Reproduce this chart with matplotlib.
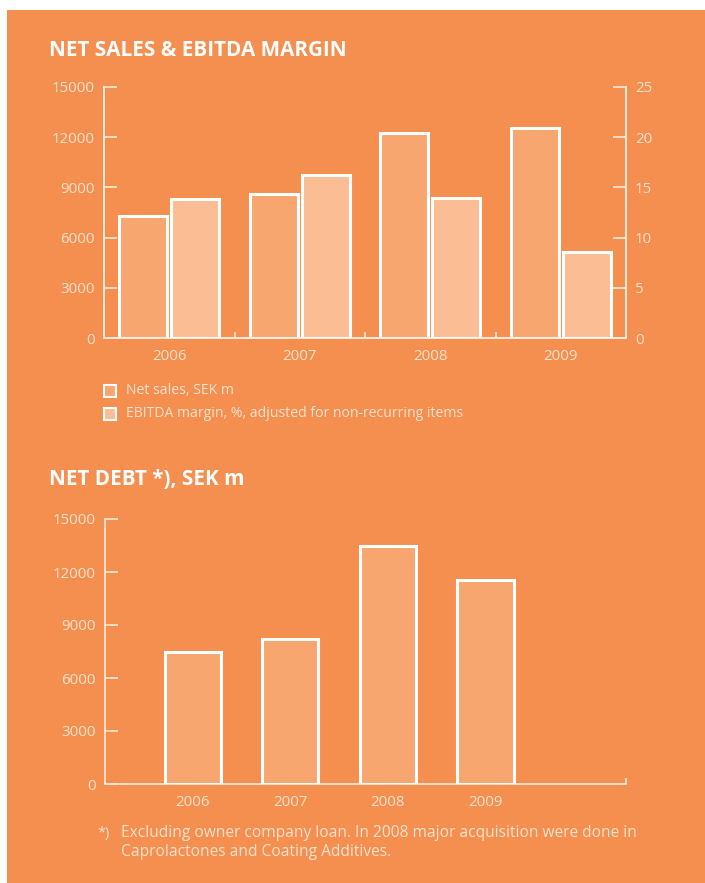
import matplotlib
matplotlib.use('Agg')
from matplotlib import pyplot as plt
from matplotlib.patches import Rectangle
import numpy as np

years = ['2006', '2007', '2008', '2009']
net_sales = [7300, 8600, 12250, 12550]
ebitda_margin = [13.8, 16.2, 13.9, 8.6]
net_debt = [7450, 8200, 13450, 11550]

bg = '#F58F4F'
c_sales = '#F8A670'
c_ebitda = '#FBBD93'
c_text = '#FDE2CF'
c_line = '#FEEADB'

plt.rcParams['font.family'] = ['Open Sans', 'DejaVu Sans']

W, H = 705, 883
fig = plt.figure(figsize=(W / 100, H / 100), dpi=100)
fig.patch.set_facecolor('white')
fig.patches.append(Rectangle((7 / W, -0.02), 1, 1.02 - 10 / H, transform=fig.transFigure,
                             facecolor=bg, edgecolor='none', zorder=-5))


def px(x0, y0, x1, y1):
  # pixel box -> figure fraction [left, bottom, width, height]
  return [x0 / W, 1 - y1 / H, (x1 - x0) / W, (y1 - y0) / H]


def style_axis(ax):
  ax.set_facecolor('none')
  for s in ax.spines.values():
    s.set_color(c_line)
    s.set_linewidth(1.2)
  ax.tick_params(colors=c_line, labelcolor=c_text, labelsize=10.8, width=1.2)


# --- top chart: net sales & EBITDA margin ---
ax = fig.add_axes(px(104, 87, 626, 338))
ax2 = ax.twinx()
x = np.arange(len(years))
bw = 0.37
ax.bar(x - 0.2, net_sales, bw, color=c_sales, edgecolor='white', linewidth=2.2, zorder=3)
ax2.bar(x + 0.2, ebitda_margin, bw, color=c_ebitda, edgecolor='white', linewidth=2.2, zorder=3)
ax.set_xlim(-0.5, 3.5)
ax.set_ylim(0, 15000)
ax2.set_ylim(0, 25)
ax.set_yticks(np.arange(0, 15001, 3000))
ax2.set_yticks(np.arange(0, 26, 5))
ax.set_xticks(x)
ax.set_xticklabels(years)
ax.set_xticks([0.5, 1.5, 2.5], minor=True)
for a in (ax, ax2):
  style_axis(a)
  a.spines['top'].set_visible(False)
ax.tick_params(axis='y', direction='in', length=9.4, pad=6.5)
ax2.tick_params(axis='y', direction='in', length=9.4, pad=6.5)
ax.tick_params(axis='x', which='major', length=0, pad=8)
ax.tick_params(axis='x', which='minor', direction='in', length=4.5, color=c_line, width=1.2)
ax2.tick_params(axis='x', which='both', length=0)

fig.text(49 / W, 1 - 51 / H, 'NET SALES & EBITDA MARGIN', color='white',
         fontsize=14.9, fontweight='bold', va='center', ha='left')

# legend
leg_items = [('Net sales, SEK m', c_sales, 390), ('EBITDA margin, %, adjusted for non-recurring items', c_ebitda, 413)]
for label, col, yc in leg_items:
  fig.patches.append(Rectangle((104 / W, 1 - (yc + 6.5) / H), 12 / W, 12 / H,
                               transform=fig.transFigure, facecolor=col,
                               edgecolor='white', linewidth=1.5, zorder=3))
  fig.text(126 / W, 1 - yc / H, label, color=c_text, fontsize=10.1, va='center', ha='left')

# --- bottom chart: net debt ---
bx = fig.add_axes(px(105, 519, 626, 784))
xb = np.arange(1, len(years) + 1)
bx.bar(xb, net_debt, 0.575, color=c_sales, edgecolor='white', linewidth=2.2, zorder=3)
bx.set_xlim(0.1, 5.44)
bx.set_ylim(0, 15000)
bx.set_yticks(np.arange(0, 15001, 3000))
bx.set_xticks(xb)
bx.set_xticklabels(years)
bx.set_xticks([5.44], minor=True)
style_axis(bx)
bx.spines['top'].set_visible(False)
bx.spines['right'].set_visible(False)
bx.tick_params(axis='y', direction='in', length=9.4, pad=6.5)
bx.tick_params(axis='x', which='major', length=0, pad=8)
bx.tick_params(axis='x', which='minor', direction='in', length=4.5, color=c_line, width=1.2)

fig.text(49 / W, 1 - 480 / H, 'NET DEBT *), SEK m', color='white',
         fontsize=14.9, fontweight='bold', va='center', ha='left')

fig.text(97 / W, 1 - 833 / H, '*)', color=c_text, fontsize=10.5, va='center', ha='left')
fig.text(121 / W, 1 - 833 / H,
         'Excluding owner company loan. In 2008 major acquisition were done in',
         color=c_text, fontsize=11.2, va='center', ha='left')
fig.text(121 / W, 1 - 852 / H, 'Caprolactones and Coating Additives.',
         color=c_text, fontsize=11.2, va='center', ha='left')

fig.savefig('out.png', dpi=100, facecolor=fig.get_facecolor())
